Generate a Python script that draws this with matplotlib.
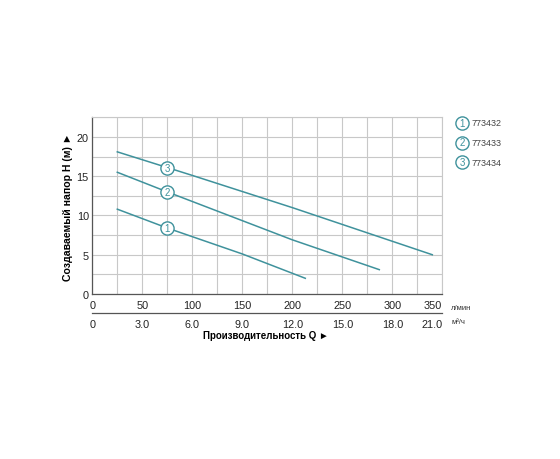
import numpy as np
import matplotlib.pyplot as plt
from matplotlib.lines import Line2D

# расход, л/мин и напор, м
q1 = [25, 75, 150, 213]
h1 = [10.8, 8.4, 5.1, 2.0]
q2 = [25, 75, 200, 287]
h2 = [15.5, 13.0, 6.9, 3.1]
q3 = [25, 100, 200, 340]
h3 = [18.1, 15.1, 11.0, 5.0]
models = ["773432", "773433", "773434"]
label_q = 75

q_ticks = [0, 50, 100, 150, 200, 250, 300, 350]
m3_ticks = ["0", "3.0", "6.0", "9.0", "12.0", "15.0", "18.0", "21.0"]
h_ticks = [0, 5, 10, 15, 20]

teal = "#3f929c"
plt.rcParams['font.family'] = ['Liberation Sans', 'DejaVu Sans']

fig = plt.figure(figsize=(5.6, 4.6), dpi=100)
L, W = 92.3 / 560, 350 / 560
B, H = 1 - 295 / 460, (295 - 118.3) / 460
ax = fig.add_axes([L, B, W, H])

ax.set_xlim(0, 350)
ax.set_ylim(0, 22.5)
ax.set_xticks(q_ticks)
ax.set_xticks(np.arange(25, 350, 50), minor=True)
ax.set_yticks(h_ticks)
ax.set_yticks(np.arange(2.5, 22.6, 5), minor=True)
ax.grid(True, which='both', color='#c8c8c8', lw=0.8)
ax.set_axisbelow(True)
ax.tick_params(which='both', length=0, labelsize=7.8, colors='#222222', pad=4)
ax.tick_params(axis='y', pad=2.5)
ax.get_xticklabels()[-1].set_ha('right')
for s in ['top', 'right']:
    ax.spines[s].set_color('#c8c8c8')
    ax.spines[s].set_linewidth(0.8)
for s in ['left', 'bottom']:
    ax.spines[s].set_color('#555555')
    ax.spines[s].set_linewidth(0.9)

for i, (q, h) in enumerate([(q1, h1), (q2, h2), (q3, h3)]):
    ax.plot(q, h, color=teal, lw=1.1)
    y = np.interp(label_q, q, h)
    ax.plot(label_q, y, 'o', ms=9.5, mfc='white', mec=teal, mew=1.0)
    ax.text(label_q, y, str(i + 1), color=teal, fontsize=7, ha='center', va='center')

ax.set_ylabel("Создаваемый напор H (м) ►", fontsize=7.6, fontweight='bold')
ax.yaxis.set_label_coords(-0.056, 0.5)

# вторая шкала, м³/ч
ax2 = fig.add_axes([L, 1 - 314 / 460, W, 0.0001])
ax2.set_xlim(0, 21)
ax2.set_xticks(np.arange(0, 21.1, 3))
ax2.set_xticklabels(m3_ticks)
ax2.get_xticklabels()[-1].set_ha('right')
ax2.set_yticks([])
for s in ['top', 'right', 'left']:
    ax2.spines[s].set_visible(False)
ax2.spines['bottom'].set_color('#555555')
ax2.spines['bottom'].set_linewidth(0.9)
ax2.tick_params(length=0, labelsize=7.8, colors='#222222', pad=4)

fig.text(266 / 560, 1 - 336 / 460, "Производительность Q ►", fontsize=7,
         fontweight='bold', ha='center', va='center')
fig.text(451 / 560, 1 - 309 / 460, "л/мин", fontsize=5.5, color='#333333', va='center')
fig.text(451 / 560, 1 - 323 / 460, "м³/ч", fontsize=5.5, color='#333333', va='center')

# легенда
for i, m in enumerate(models):
    yy = 1 - (124 + i * 19.5) / 460
    fig.add_artist(Line2D([462 / 560], [yy], marker='o', ms=9.5, mfc='white',
                          mec=teal, mew=1.0, transform=fig.transFigure))
    fig.text(462 / 560, yy, str(i + 1), color=teal, fontsize=7, ha='center', va='center')
    fig.text(472 / 560, yy, m, color='#444444', fontsize=6.5, va='center')

fig.savefig("out.png", dpi=100)
